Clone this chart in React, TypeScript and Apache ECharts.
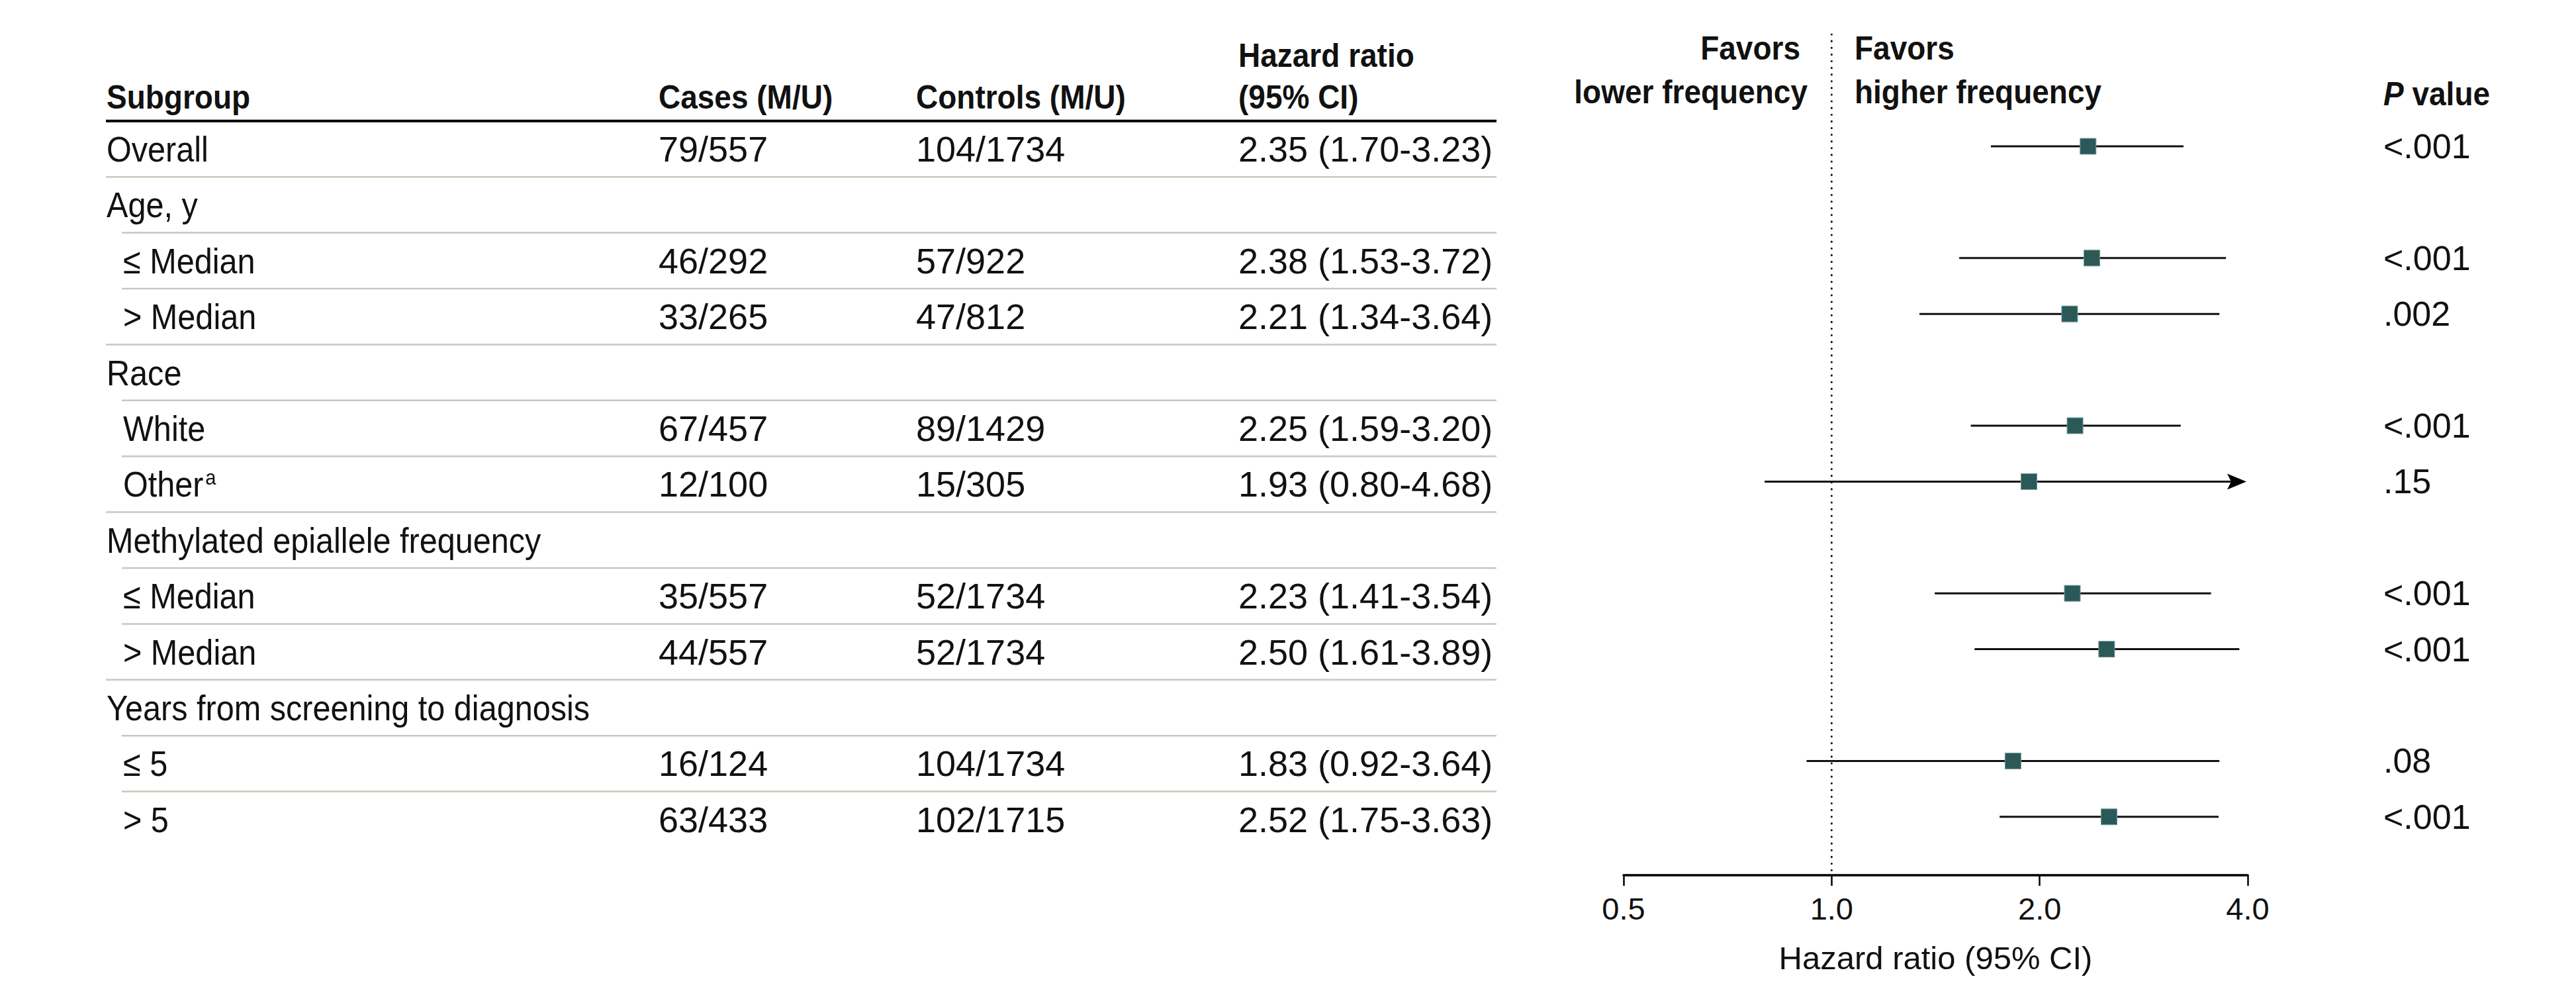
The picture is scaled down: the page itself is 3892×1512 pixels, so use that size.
import React, { useEffect, useRef } from "react";
import * as echarts from "echarts";

// ---------------- data ----------------
const subgroups = [
  "Overall",
  "Age, y",
  "≤ Median",
  "> Median",
  "Race",
  "White",
  "Other",
  "Methylated epiallele frequency",
  "≤ Median",
  "> Median",
  "Years from screening to diagnosis",
  "≤ 5",
  "> 5",
];
const indented = [false, false, true, true, false, true, true, false, true, true, false, true, true];
const footnotes = ["", "", "", "", "", "", "a", "", "", "", "", "", ""];
const cases = ["79/557", "", "46/292", "33/265", "", "67/457", "12/100", "", "35/557", "44/557", "", "16/124", "63/433"];
const controls = ["104/1734", "", "57/922", "47/812", "", "89/1429", "15/305", "", "52/1734", "52/1734", "", "104/1734", "102/1715"];
const hazardRatio = [2.35, null, 2.38, 2.21, null, 2.25, 1.93, null, 2.23, 2.5, null, 1.83, 2.52];
const ciLower = [1.7, null, 1.53, 1.34, null, 1.59, 0.8, null, 1.41, 1.61, null, 0.92, 1.75];
const ciUpper = [3.23, null, 3.72, 3.64, null, 3.2, 4.68, null, 3.54, 3.89, null, 3.64, 3.63];
const pValues = ["<.001", "", "<.001", ".002", "", "<.001", ".15", "", "<.001", "<.001", "", ".08", "<.001"];
const xTicks = [0.5, 1, 2, 4];
const refValue = 1;

const tableHeaders = ["Subgroup", "Cases (M/U)", "Controls (M/U)"];
const hrHeader = ["Hazard ratio", "(95% CI)"];
const favorsLeft = ["Favors", "lower frequency"];
const favorsRight = ["Favors", "higher frequency"];
const axisTitle = "Hazard ratio (95% CI)";

// ---------------- layout ----------------
const W = 3892;
const H = 1512;
const FONT = '"Liberation Sans", Arial, Helvetica, sans-serif';
const f = (size: number, weight = "normal", style = "normal") => `${style} ${weight} ${size}px ${FONT}`;
const TEXT = "#111111";
const RULE = "#c6c9ba";
const MARK = "#2b5957";

const WORD_FONT = f(54);
const WORD_SCALE = 0.9;
const NUM_FONT = f(54);
const HEAD_FONT = f(50, "bold");
const HEAD_SCALE = 0.92;

const ROWH = 84.4;
const TROW0 = 225; // table first row center
const FROW0 = 221; // forest first row center
const X_SUB = 161;
const X_IND = 186;
const X_CASES = 995;
const X_CTRL = 1384;
const X_HR = 1871;
const X_TABLE_R = 2261;
const AX_L = 2453;
const AX_R = 3396;
const AX_Y = 1322;
const PLOT_TOP = 52;
const X_P = 3601;

const FMIN = (PLOT_TOP - FROW0) / ROWH;
const FMAX = (AX_Y - FROW0) / ROWH;

function txt(x: number, y: number, text: string, font: string, align = "left", scaleX = 1, extra: any = {}) {
  return {
    type: "text",
    x,
    y,
    scaleX,
    silent: true,
    style: {
      text,
      font,
      fill: TEXT,
      align,
      verticalAlign: "middle",
      ...extra,
    },
  };
}

function buildOption() {
  const n = subgroups.length;
  const tableData = subgroups.map((_, i) => [0, i]);
  const forestData: number[][] = [];
  hazardRatio.forEach((v, i) => {
    if (v != null) forestData.push([v, ciLower[i] as number, ciUpper[i] as number, i]);
  });
  const axisMax = xTicks[xTicks.length - 1];

  return {
    animation: false,
    backgroundColor: "#ffffff",
    grid: [
      { left: 0, top: TROW0 - ROWH / 2, width: 2300, height: ROWH * n },
      { left: AX_L, top: PLOT_TOP, width: AX_R - AX_L, height: AX_Y - PLOT_TOP },
    ],
    xAxis: [
      { gridIndex: 0, type: "value", min: 0, max: 2300, show: false },
      {
        gridIndex: 1,
        type: "log",
        logBase: 2,
        min: xTicks[0],
        max: axisMax,
        axisLine: { show: true, onZero: false, lineStyle: { color: "#000", width: 3.5 } },
        axisTick: { show: true, inside: false, length: 16, lineStyle: { color: "#000", width: 2.5 } },
        axisLabel: {
          fontSize: 47,
          fontFamily: FONT,
          color: TEXT,
          margin: 27,
          formatter: (v: number) => Number(v).toFixed(1),
        },
        splitLine: { show: false },
        name: axisTitle,
        nameLocation: "middle",
        nameGap: 100,
        nameTextStyle: { fontSize: 49, fontFamily: FONT, color: TEXT },
      },
    ],
    yAxis: [
      { gridIndex: 0, type: "value", min: -0.5, max: n - 0.5, inverse: true, show: false },
      { gridIndex: 1, type: "value", min: FMIN, max: FMAX, inverse: true, show: false },
    ],
    graphic: [
      txt(X_SUB, 147, tableHeaders[0], HEAD_FONT, "left", HEAD_SCALE),
      txt(X_CASES, 147, tableHeaders[1], HEAD_FONT, "left", HEAD_SCALE),
      txt(X_CTRL, 147, tableHeaders[2], HEAD_FONT, "left", HEAD_SCALE),
      txt(X_HR, 84, hrHeader[0], HEAD_FONT, "left", HEAD_SCALE),
      txt(X_HR, 147, hrHeader[1], HEAD_FONT, "left", HEAD_SCALE),
      txt(2720, 73, favorsLeft[0], HEAD_FONT, "right", HEAD_SCALE),
      txt(2731, 139, favorsLeft[1], HEAD_FONT, "right", HEAD_SCALE),
      txt(2802, 73, favorsRight[0], HEAD_FONT, "left", HEAD_SCALE),
      txt(2802, 139, favorsRight[1], HEAD_FONT, "left", HEAD_SCALE),
      txt(X_P, 142, "{i|P} value", HEAD_FONT, "left", HEAD_SCALE, {
        rich: { i: { font: f(50, "bold", "italic"), fill: TEXT } },
      }),
    ],
    series: [
      {
        type: "custom",
        name: "table",
        xAxisIndex: 0,
        yAxisIndex: 0,
        data: tableData,
        clip: false,
        silent: true,
        renderItem: (params: any, api: any) => {
          const i = params.dataIndex;
          const y = api.coord([0, i])[1];
          const children: any[] = [];
          if (i === 0) {
            const yh = api.coord([0, -0.5])[1];
            children.push({
              type: "line",
              shape: { x1: api.coord([X_SUB - 1, 0])[0], y1: yh, x2: api.coord([X_TABLE_R, 0])[0], y2: yh },
              style: { stroke: "#000", lineWidth: 4 },
            });
          }
          if (i < n - 1) {
            const yr = api.coord([0, i + 0.5])[1];
            const x0 = indented[i + 1] ? X_IND - 2 : X_SUB - 1;
            children.push({
              type: "line",
              shape: { x1: api.coord([x0, 0])[0], y1: yr, x2: api.coord([X_TABLE_R, 0])[0], y2: yr },
              style: { stroke: RULE, lineWidth: 2.5 },
            });
          }
          const sx = api.coord([indented[i] ? X_IND : X_SUB, i])[0];
          if (footnotes[i]) {
            children.push(
              txt(sx, y, `${subgroups[i]}{sup|${footnotes[i]}}`, WORD_FONT, "left", WORD_SCALE, {
                rich: { sup: { font: f(32), fill: TEXT, verticalAlign: "top", padding: [0, 0, 6, 3] } },
              })
            );
          } else {
            children.push(txt(sx, y, subgroups[i], WORD_FONT, "left", WORD_SCALE));
          }
          if (cases[i]) children.push(txt(api.coord([X_CASES, i])[0], y, cases[i], NUM_FONT));
          if (controls[i]) children.push(txt(api.coord([X_CTRL, i])[0], y, controls[i], NUM_FONT));
          const hr = hazardRatio[i];
          if (hr != null) {
            const s = `${hr.toFixed(2)} (${(ciLower[i] as number).toFixed(2)}-${(ciUpper[i] as number).toFixed(2)})`;
            children.push(txt(api.coord([X_HR, i])[0], y, s, NUM_FONT));
          }
          return { type: "group", children };
        },
      },
      {
        type: "line",
        name: "reference",
        xAxisIndex: 1,
        yAxisIndex: 1,
        data: [
          [refValue, FMIN],
          [refValue, FMAX],
        ],
        symbol: "none",
        silent: true,
        lineStyle: { color: "#000", width: 3, type: [0.1, 10], cap: "round" },
        z: 1,
      },
      {
        type: "custom",
        name: "forest",
        xAxisIndex: 1,
        yAxisIndex: 1,
        data: forestData,
        encode: { x: [0, 1, 2], y: 3 },
        clip: false,
        silent: true,
        z: 3,
        renderItem: (params: any, api: any) => {
          const hr = api.value(0);
          const lo = api.value(1);
          const hi = api.value(2);
          const row = api.value(3);
          const c = api.coord([hr, row]);
          const y = c[1];
          const xl = api.coord([lo, row])[0];
          const xh = api.coord([Math.min(hi, axisMax), row])[0];
          const children: any[] = [];
          if (hi > axisMax) {
            const tip = xh - 2;
            children.push({
              type: "line",
              shape: { x1: xl, y1: y, x2: tip - 10, y2: y },
              style: { stroke: "#111", lineWidth: 3 },
            });
            children.push({
              type: "polygon",
              shape: {
                points: [
                  [tip, y],
                  [tip - 29, y - 12],
                  [tip - 23, y],
                  [tip - 29, y + 12],
                ],
              },
              style: { fill: "#000" },
            });
          } else {
            children.push({
              type: "line",
              shape: { x1: xl, y1: y, x2: xh, y2: y },
              style: { stroke: "#111", lineWidth: 3 },
            });
          }
          children.push({
            type: "rect",
            shape: { x: c[0] - 12, y: y - 12, width: 24, height: 24 },
            style: { fill: MARK, stroke: "#6f9a96", lineWidth: 1 },
          });
          children.push(txt(X_P, y, pValues[row], f(52)));
          return { type: "group", children };
        },
      },
    ],
  };
}

export default function App() {
  const ref = useRef<HTMLDivElement>(null);
  useEffect(() => {
    if (!ref.current) return;
    const chart = echarts.init(ref.current, undefined, { renderer: "svg" });
    chart.setOption(buildOption() as any);
    return () => chart.dispose();
  }, []);
  return (
    <div
      ref={ref}
      style={{ position: "absolute", left: 0, top: 0, width: W, height: H, background: "#fff" }}
    />
  );
}
